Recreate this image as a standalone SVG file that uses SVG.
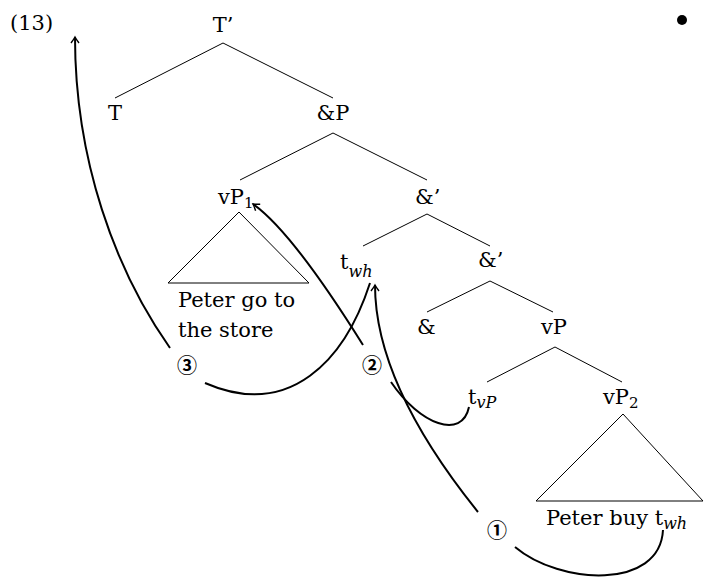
<svg xmlns="http://www.w3.org/2000/svg" width="704" height="580" viewBox="0 0 704 580">
<style>
text{font-family:"DejaVu Serif","Liberation Serif",serif;font-size:21px;fill:#000}
.sub{font-size:15px}
.it{font-style:italic;font-size:16px}
.num{font-family:"Noto Sans CJK JP","DejaVu Sans",sans-serif;font-size:20px;font-weight:bold}
.edge{stroke:#000;stroke-width:1;fill:none}
.move{stroke:#000;stroke-width:2;fill:none}
</style>
<defs>
<marker id="ah" viewBox="-8 -5 10 10" refX="0" refY="0" markerWidth="10" markerHeight="10" orient="auto" markerUnits="userSpaceOnUse">
<path d="M-6,-4 Q-2,-1 0,0 Q-2,1 -6,4" fill="none" stroke="#000" stroke-width="1.4"/>
</marker>
</defs>
<rect width="704" height="580" fill="#fff"/>
<text id="label" x="10" y="30">(13)</text>
<circle id="bullet" cx="682" cy="20" r="5" fill="#000"/>
<g id="edges">
<line class="edge" x1="223" y1="43" x2="115" y2="98"/>
<line class="edge" x1="223" y1="43" x2="333" y2="98"/>
<line class="edge" x1="333" y1="133" x2="240" y2="180"/>
<line class="edge" x1="333" y1="133" x2="427" y2="180"/>
<line class="edge" x1="427" y1="214" x2="363" y2="246"/>
<line class="edge" x1="427" y1="214" x2="490" y2="246"/>
<line class="edge" x1="490" y1="281" x2="427" y2="312"/>
<line class="edge" x1="490" y1="281" x2="553" y2="312"/>
<line class="edge" x1="555" y1="347" x2="487" y2="382"/>
<line class="edge" x1="555" y1="347" x2="622" y2="382"/>
</g>
<g id="n-Tbar"><text x="223" y="32" text-anchor="middle">T’</text></g>
<g id="n-T"><text x="115" y="120" text-anchor="middle">T</text></g>
<g id="n-andP"><text x="333" y="120" text-anchor="middle">&amp;P</text></g>
<g id="n-vP1"><text x="218" y="204">vP<tspan class="sub" dy="4">1</tspan></text>
<polygon class="edge" points="239,212 168,283 309,283"/>
<text x="178" y="307">Peter go to</text>
<text x="178" y="337">the store</text></g>
<g id="n-andbar1"><text x="415" y="204">&amp;’</text></g>
<g id="n-twh"><text x="340" y="269">t<tspan class="it" dy="8">wh</tspan></text></g>
<g id="n-andbar2"><text x="478" y="267">&amp;’</text></g>
<g id="n-and"><text x="417" y="334">&amp;</text></g>
<g id="n-vP"><text x="541" y="334">vP</text></g>
<g id="n-tvP"><text x="468" y="404">t<tspan class="it" dy="4">vP</tspan></text></g>
<g id="n-vP2"><text x="603" y="404">vP<tspan class="sub" dy="4">2</tspan></text>
<polygon class="edge" points="623,414 536,501 703,501"/>
<text x="546" y="525">Peter buy t<tspan class="it" dy="4">wh</tspan></text></g>
<g id="steps">
<text class="num" x="187" y="373" text-anchor="middle">③</text>
<text class="num" x="372" y="373" text-anchor="middle">②</text>
<text class="num" x="497" y="538" text-anchor="middle">①</text>
</g>
<g id="connectors">
<path class="move" d="M663,530 C660,590 560,585 515,547"/>
<path class="move" d="M478,512 C420,440 375,360 375,285" marker-end="url(#ah)"/>
<path class="move" d="M469,407 C462,440 420,425 391,382"/>
<path class="move" d="M363,345 C333,297 287,228 253,204" marker-end="url(#ah)"/>
<path class="move" d="M370,283 C345,360 290,420 205,383"/>
<path class="move" d="M170,348 C115,270 75,160 75,37" marker-end="url(#ah)"/>
</g>
</svg>
